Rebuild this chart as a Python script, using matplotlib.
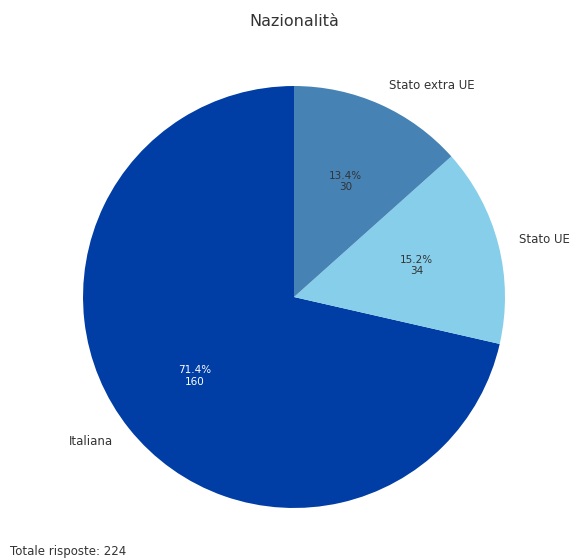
import matplotlib
matplotlib.use("Agg")
import matplotlib.pyplot as plt

labels = ["Italiana", "Stato UE", "Stato extra UE"]
counts = [160, 34, 30]
colors = ["#003DA5", "#87CEEB", "#4682B4"]
total = sum(counts)

fig = plt.figure(figsize=(5.71, 5.59), dpi=100)
ax = fig.add_axes([0.1454, 0.0912, 0.739, 0.755])


def fmt(pct):
    n = int(round(pct * total / 100.0))
    return "{:.1f}%\n{:d}".format(pct, n)


wedges, texts, autotexts = ax.pie(counts, labels=labels, colors=colors,
                                  autopct=fmt, startangle=90,
                                  labeldistance=1.1, pctdistance=0.6,
                                  textprops={"color": "#333333", "fontsize": 8.5})
ax.set_xlim(-1, 1)
ax.set_ylim(-1, 1)
for t in autotexts:
    t.set_fontsize(7.5)
autotexts[0].set_color("white")

fig.text(0.515, 1 - 21 / 559, "Nazionalità", ha="center", va="center",
         fontsize=11.5, color="#333333")
fig.text(10 / 571, 1 - 551 / 559, "Totale risposte: {}".format(total),
         ha="left", va="center", fontsize=8.5, color="#333333")

fig.savefig("out.png")
